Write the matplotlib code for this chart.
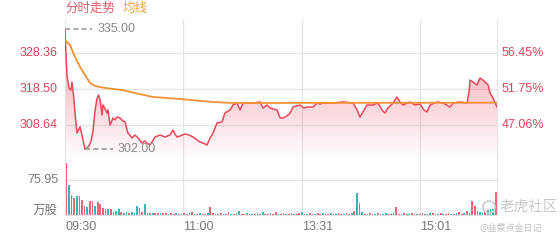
import numpy as np
import matplotlib
matplotlib.use("Agg")
import matplotlib.pyplot as plt
from matplotlib.patches import Ellipse

plt.rcParams['font.family'] = ['Liberation Sans', 'Noto Sans CJK SC', 'DejaVu Sans']

# minutes since 09:30 (HK session, 330 trading minutes)
minutes = [0, 0.8, 1.5, 3.1, 4.6, 5.3, 6.5, 8.0, 9.2, 11.5, 13.8, 15.3, 16.8, 18.3, 19.9,
           21.4, 22.9, 24.4, 25.6, 26.7, 28.3, 29.0, 30.6, 32.1, 32.8, 34.4, 36.7, 38.2,
           39.7, 42.0, 44.3, 45.8, 48.1, 51.2, 53.5, 55.8, 58.8, 61.1, 62.6, 64.9, 66.5,
           68.8, 72.6, 76.4, 80.2, 82.5, 84.0, 85.6, 87.8, 91.7, 94.7, 97.8, 100.8, 103.1,
           105.4, 108.5, 110.8, 113.1, 116.1, 119.9, 122.2, 126.1, 128.3, 131.4, 133.7,
           136.0, 139.0, 143.6, 149.0, 151.3, 154.3, 156.6, 162.0, 164.3, 166.6, 169.6,
           171.9, 174.2, 176.5, 179.5, 182.6, 184.9, 189.4, 192.5, 194.8, 197.1, 204.7,
           212.4, 220.0, 223.1, 225.3, 227.6, 230.7, 235.3, 239.1, 242.2, 244.4, 246.7,
           250.6, 253.6, 255.9, 258.2, 263.5, 267.4, 271.2, 274.2, 276.5, 278.8, 284.2,
           288.8, 294.1, 296.4, 301.7, 307.1, 308.6, 309.4, 311.7, 314.7, 317.0, 319.3,
           320.9, 323.2, 324.7, 327.0, 328.6, 330.0]
price = [335.00, 327.81, 322.33, 318.77, 318.23, 320.42, 316.86, 310.56, 306.45, 308.09,
         304.53, 302.00, 302.34, 302.89, 304.26, 306.98, 312.47, 315.76, 316.86, 315.76,
         311.38, 314.12, 313.02, 311.93, 312.75, 308.64, 310.56, 310.01, 310.83, 310.56,
         309.74, 309.46, 306.45, 305.08, 305.90, 305.08, 303.71, 304.26, 303.71, 303.16,
         303.98, 305.35, 305.90, 305.35, 305.90, 307.27, 306.17, 305.35, 305.63, 306.17,
         305.90, 305.35, 304.53, 303.98, 303.71, 303.16, 305.08, 306.45, 309.19, 309.46,
         311.93, 312.75, 314.12, 314.66, 312.75, 314.66, 314.66, 314.66, 314.94, 313.30,
         314.12, 313.30, 312.75, 310.56, 310.56, 311.10, 311.93, 313.57, 313.84, 314.12,
         313.30, 313.57, 313.57, 314.66, 314.39, 314.66, 314.66, 314.94, 314.66, 312.75,
         310.83, 312.20, 314.12, 314.12, 314.66, 312.75, 311.93, 313.30, 314.66, 316.31,
         314.94, 314.12, 314.94, 314.12, 314.39, 312.75, 312.20, 314.12, 314.94, 314.66,
         313.57, 314.66, 314.94, 314.66, 317.68, 320.96, 320.42, 319.60, 321.51, 320.96,
         320.42, 319.60, 317.40, 316.03, 314.66, 313.57]

avg_minutes = [0, 3.8, 7.6, 11.5, 15.3, 19.1, 22.9, 30.6, 43.5, 53.5, 67.2, 87.8, 113.1,
               128.3, 200, 260, 330]
avg_price = [331.92, 330.55, 327.26, 324.53, 322.33, 320.14, 319.32, 318.77, 318.23,
             317.40, 316.31, 315.76, 314.94, 314.66, 314.70, 314.72, 314.75]

# volume, one bar per 2 minutes (万股); 1 = up (red), 0 = down (teal)
volume = [113, 66, 44, 36, 41, 42, 32, 20, 17, 31, 30, 20, 28, 23, 16, 12, 14, 12, 7, 8,
          13, 6, 5, 7, 5, 6, 4, 20, 15, 6, 24, 5, 4, 5, 4, 5, 4, 5, 4, 3,
          4, 3, 4, 3, 3, 4, 3, 4, 7, 3, 3, 4, 3, 3, 4, 18, 4, 3, 3, 4,
          3, 3, 6, 3, 3, 4, 8, 3, 3, 4, 3, 3, 3, 4, 3, 6, 3, 3, 4, 3,
          6, 3, 3, 4, 3, 3, 4, 3, 3, 5, 7, 3, 3, 4, 3, 3, 5, 3, 4, 3,
          3, 4, 3, 3, 4, 3, 3, 4, 3, 5, 8, 48, 25, 6, 3, 3, 4, 3, 3, 4,
          3, 3, 4, 3, 3, 4, 17, 3, 3, 4, 3, 3, 4, 3, 3, 3, 4, 3, 3, 4,
          5, 3, 3, 4, 3, 3, 4, 3, 3, 4, 6, 3, 4, 8, 5, 31, 20, 8, 6, 5,
          6, 10, 12, 14, 50]
vol_up = [1, 0, 0, 1, 0, 0, 1, 1, 0, 1, 1, 0, 1, 1, 1, 0, 0, 1, 1, 0,
          0, 1, 0, 0, 1, 0, 0, 0, 0, 1, 0, 1, 1, 0, 1, 1, 0, 1, 1, 0,
          1, 1, 0, 1, 0, 1, 1, 0, 1, 0, 1, 0, 1, 1, 0, 1, 1, 0, 1, 1,
          0, 1, 1, 0, 1, 0, 0, 1, 1, 0, 1, 0, 1, 1, 0, 0, 1, 1, 0, 1,
          1, 0, 1, 1, 0, 1, 1, 0, 1, 1, 0, 1, 0, 1, 1, 0, 1, 1, 0, 1,
          1, 0, 1, 0, 1, 1, 0, 1, 1, 0, 1, 0, 1, 0, 1, 0, 1, 1, 0, 1,
          1, 0, 0, 1, 1, 0, 1, 1, 0, 1, 1, 0, 1, 1, 0, 1, 1, 0, 1, 0,
          1, 1, 0, 1, 0, 1, 1, 0, 1, 0, 1, 1, 0, 1, 1, 1, 1, 1, 0, 0,
          1, 0, 0, 0, 1]

price_ticks = [328.36, 318.50, 308.64]
pct_labels = ['56.45%', '51.75%', '47.06%']
vol_tick = 75.95
time_ticks = [0, 90, 181, 271]
time_labels = ['09:30', '11:00', '13:31', '15:01']
high_val, high_at = 335.00, 0
low_val, low_at = 302.00, 15.3

RED = '#e8475c'
LABEL_RED = '#d9475c'
ORANGE = '#f29133'
TEAL = '#35b8b2'
VRED = '#ee6478'
GRID = '#e4e4e4'
GRAY = '#8a8a8a'

W, H = 560, 240
fig = plt.figure(figsize=(5.6, 2.4), dpi=100)
ax = fig.add_axes([65 / W, 1 - 160 / H, 432 / W, 140 / H])
axv = fig.add_axes([65 / W, 1 - 215 / H, 432 / W, 55 / H])

y_top, y_bot = 337.40, 299.05
ax.set_xlim(0, 330)
ax.set_ylim(y_bot, y_top)

# gradient fill under the price line
fill = ax.fill_between(minutes, price, y_bot, facecolor='none', edgecolor='none')
grad = np.zeros((200, 2, 4))
grad[..., 0], grad[..., 1], grad[..., 2] = 0.94, 0.33, 0.40
grad[..., 3] = np.linspace(0.6, 0.0, 200)[:, None]
im = ax.imshow(grad, extent=[0, 330, 299.05, 335.5], aspect='auto', origin='upper', zorder=1)
im.set_clip_path(fill.get_paths()[0], transform=ax.transData)
ax.set_ylim(y_bot, y_top)

ax.plot(minutes, price, color=RED, lw=1.1, zorder=3)
ax.plot(avg_minutes, avg_price, color=ORANGE, lw=1.3, zorder=4)

for yv in price_ticks:
    ax.axhline(yv, color=GRID, lw=0.9, zorder=0)
for xv in time_ticks[1:]:
    ax.axvline(xv, color=GRID, lw=0.9, zorder=0)
    axv.axvline(xv, color=GRID, lw=0.9, zorder=0)

# max / min markers
ax.plot([high_at, high_at + 21], [high_val, high_val], color='#999999', lw=1.2,
        ls=(0, (3, 2)), zorder=5)
ax.text(high_at + 25, high_val, '%.2f' % high_val, color=GRAY, fontsize=9, va='center')
ax.plot([low_at, low_at + 21], [low_val, low_val], color='#999999', lw=1.2,
        ls=(0, (3, 2)), zorder=5)
ax.text(low_at + 25, low_val, '%.2f' % low_val, color=GRAY, fontsize=9, va='center')

ax.set_xticks([])
ax.set_yticks([])
for s in ['top', 'bottom']:
    ax.spines[s].set_visible(False)
for s in ['left', 'right']:
    ax.spines[s].set_color(GRID)

for yv, pl in zip(price_ticks, pct_labels):
    ax.text(-7 * 330 / 432, yv, '%.2f' % yv, color=LABEL_RED, fontsize=9,
            ha='right', va='center')
    ax.text(330 + 5 * 330 / 432, yv, pl, color=LABEL_RED, fontsize=9,
            ha='left', va='center')

# volume
x_bar = [2 * i + 1 for i in range(len(volume))]
colors = [VRED if u else TEAL for u in vol_up]
axv.bar(x_bar, volume, width=1.3, color=colors, zorder=2)
axv.set_xlim(0, 330)
axv.set_ylim(0, 119.4)
axv.axhline(vol_tick, color=GRID, lw=0.9, zorder=0)
axv.set_yticks([])
axv.set_xticks([])
axv.spines['top'].set_visible(False)
for s in ['left', 'right', 'bottom']:
    axv.spines[s].set_color(GRID)
axv.text(-7 * 330 / 432, vol_tick, '%.2f' % vol_tick, color='#777777', fontsize=9,
         ha='right', va='center')
axv.text(-7 * 330 / 432, 10, '万股', color='#777777', fontsize=9, ha='right', va='center')

for t, lab in zip(time_ticks, time_labels):
    axv.text(t, -26, lab, color='#777777', fontsize=9, ha='left', va='center')

fig.text(65 / W, 1 - 9 / H, '分时走势', color='#e8596a', fontsize=9, va='center')
fig.text(123 / W, 1 - 9 / H, '均线', color='#f0a040', fontsize=9, va='center')

# watermark
fig.patches.append(Ellipse((489 / W, 1 - 207 / H), 12 / W, 12 / H,
                           transform=fig.transFigure, fill=False,
                           edgecolor='#cccccc', lw=1.2))
fig.text(500 / W, 1 - 207 / H, '老虎社区', color='#c8c8c8', fontsize=10.5,
         va='center', family=['Noto Sans CJK SC'])
fig.text(480 / W, 1 - 229 / H, '@韭菜点金日记', color='#c0c0c0', fontsize=6.5,
         va='center', family=['Noto Sans CJK SC'])

fig.savefig('out.png', dpi=100)
